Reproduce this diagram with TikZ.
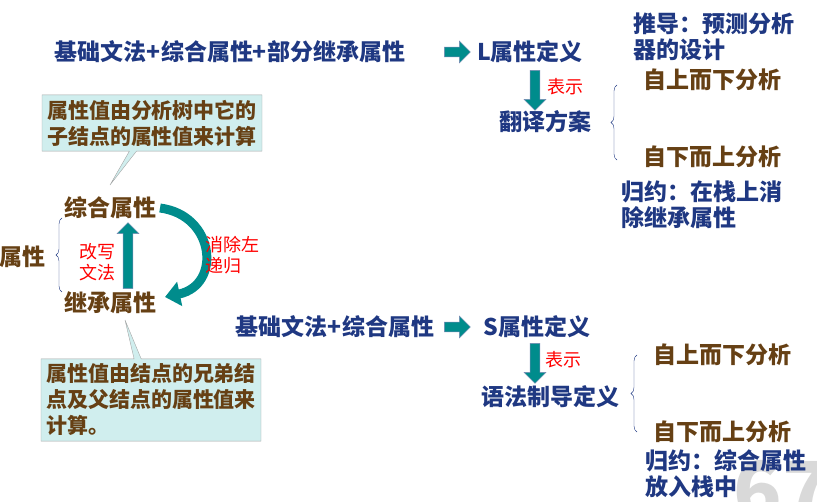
\documentclass[tikz,border=0pt]{standalone}
\usepackage{fontspec}
\setmainfont{Noto Sans CJK SC}
\usetikzlibrary{shapes.arrows,shapes.callouts,decorations.pathreplacing,arrows.meta}
\definecolor{navy}{RGB}{31,56,130}
\definecolor{brownish}{RGB}{102,64,20}
\definecolor{tealarr}{RGB}{0,140,140}
\definecolor{boxfill}{RGB}{208,238,238}
\tikzset{
  blue txt/.style={text=navy,font=\fontsize{23}{26}\selectfont\bfseries,inner sep=0pt,align=left},
  brown txt/.style={text=brownish,font=\fontsize{23}{26}\selectfont\bfseries,inner sep=0pt,align=left},
  red txt/.style={text=red,font=\fontsize{18}{21}\selectfont,inner sep=0pt,align=left},
  block/.style={single arrow,fill=tealarr,draw=navy!60,minimum height=#1,single arrow head extend=4pt,inner sep=3pt,minimum width=22pt},
  brace/.style={navy,decorate,decoration={brace,amplitude=6pt}},
  note/.style={rectangle callout,fill=boxfill,draw=gray!70,text=brownish,font=\fontsize{21}{26}\selectfont\bfseries,align=left,inner sep=5pt}
}
\begin{document}
\begin{tikzpicture}[x=1pt,y=-1pt]
\useasboundingbox (0,0) rectangle (817,502);
% slide number
\begin{scope}
\clip (0,0) rectangle (817,502);
\node[text=gray!30,font=\fontsize{80}{80}\selectfont\bfseries,anchor=west] (num) at (730,490) {67};
\end{scope}

% top row
\node[blue txt] (lgram) at (230,52) {基础文法+综合属性+部分继承属性};
\node[block=26pt] (larr) at (455,52) {};
\node[blue txt] (ldef) at (530,52) {L属性定义};
\node[block=40pt,rotate=-90] (ldown) at (535,88) {};
\node[red txt] (lshow) at (565,87) {表示};
\node[blue txt] (ltrans) at (545,122) {翻译方案};
\draw[brace] (617,160) -- (617,85);
\node[blue txt] (lderiv) at (714,37) {推导：预测分析\\器的设计};
\node[brown txt] (ltop) at (712,80) {自上而下分析};
\node[brown txt] (lbot) at (712,157) {自下而上分析};
\node[blue txt] (lred) at (702,205) {归约：在栈上消\\除继承属性};

% left part
\node[note,callout absolute pointer={(110,185)}] (synnote) at (152,123) {属性值由分析树中它的\\子结点的属性值来计算};
\node[brown txt] (syn) at (110,208) {综合属性};
\node[brown txt] (inh) at (110,303) {继承属性};
\node[brown txt] (attr) at (22,257) {属性};
\draw[brace] (62,292) -- (62,218);
\node[block=66pt,rotate=90] (rewrite) at (128,258) {};
\node[red txt] (rewtxt) at (97,262) {改写\\文法};
\draw[tealarr,line width=9pt,-{Triangle[width=24pt,length=15pt]}] (160,208) .. controls (215,215) and (222,285) .. (165,297);
\node[red txt] (elim) at (232,255) {消除左\\递归};
\node[note,callout absolute pointer={(125,320)}] (inhnote) at (151,400) {属性值由结点的兄弟结\\点及父结点的属性值来\\计算。};

% bottom row
\node[blue txt] (sgram) at (335,327) {基础文法+综合属性};
\node[block=26pt] (sarr) at (455,327) {};
\node[blue txt] (sdef) at (537,327) {S属性定义};
\node[block=40pt,rotate=-90] (sdown) at (535,361) {};
\node[red txt] (sshow) at (563,360) {表示};
\node[blue txt] (ssdd) at (550,397) {语法制导定义};
\draw[brace] (637,432) -- (637,355);
\node[brown txt] (stop) at (722,355) {自上而下分析};
\node[brown txt] (sbot) at (722,432) {自下而上分析};
\node[blue txt] (sred) at (726,474) {归约：综合属性\\放入栈中};
\end{tikzpicture}
\end{document}
